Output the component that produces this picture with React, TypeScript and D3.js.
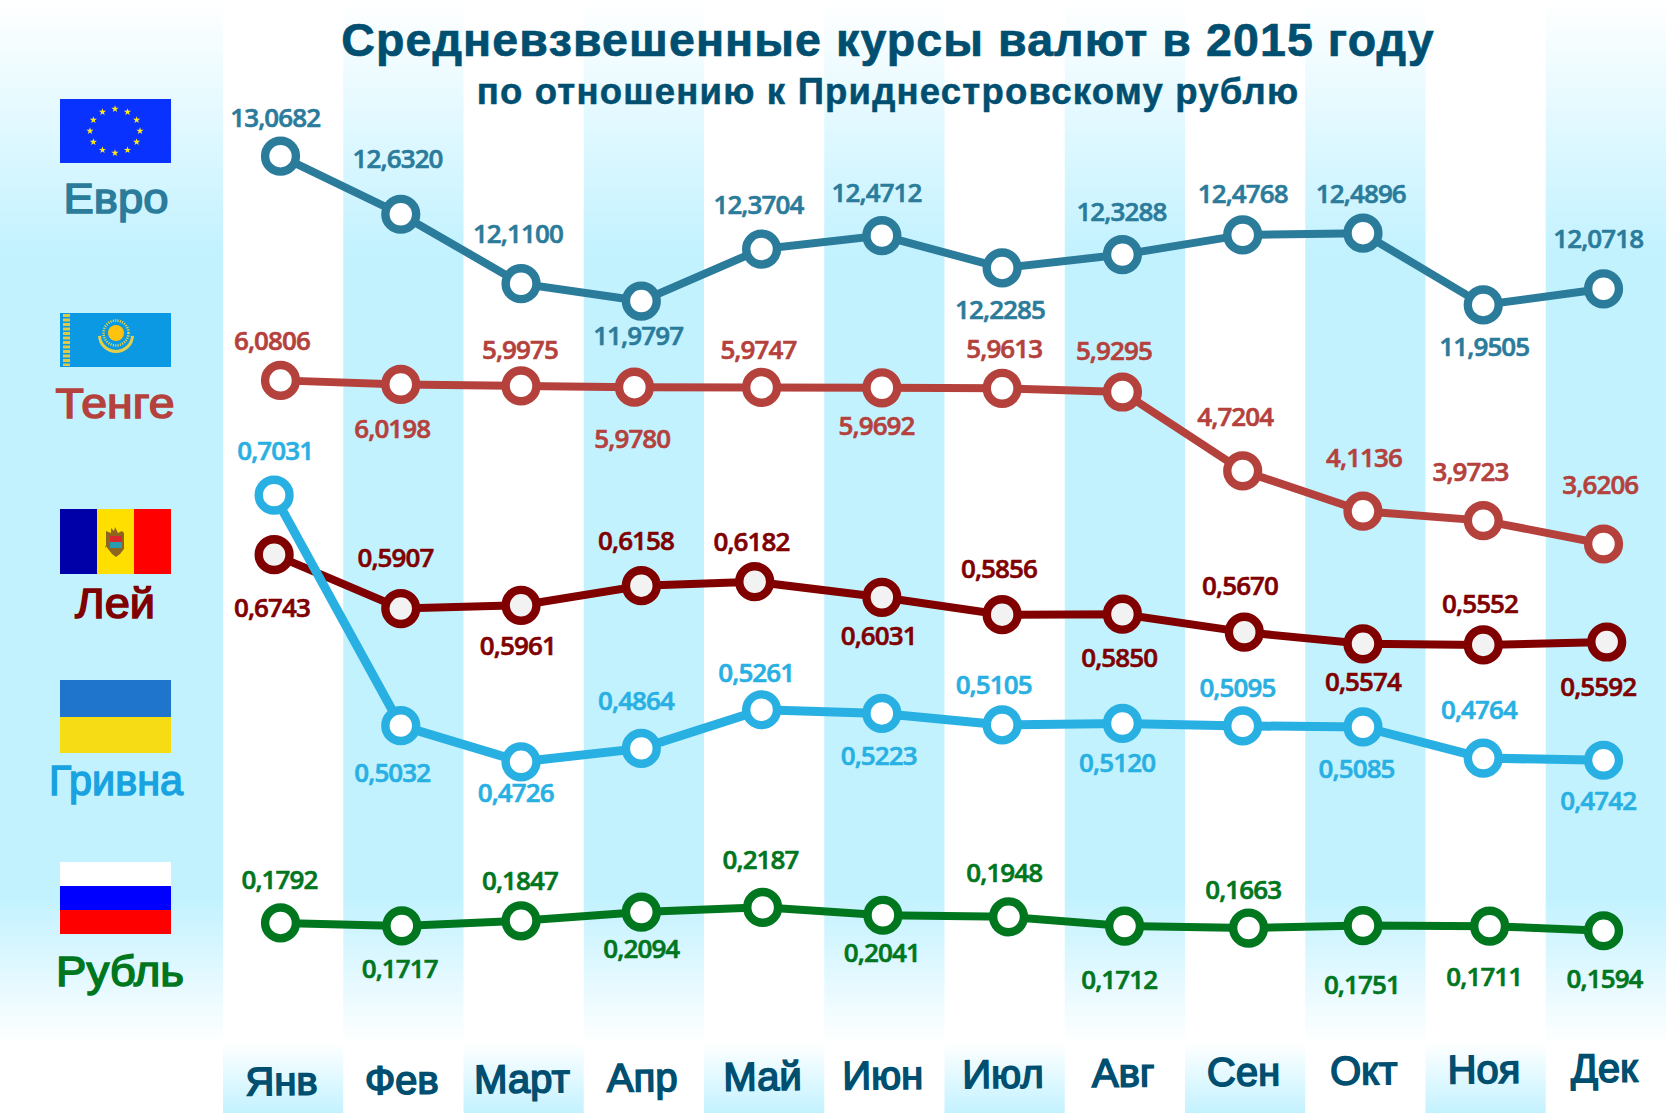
import React, { useEffect, useRef } from 'react';
import * as d3 from 'd3';

const months = ['Янв', 'Фев', 'Март', 'Апр', 'Май', 'Июн', 'Июл', 'Авг', 'Сен', 'Окт', 'Ноя', 'Дек'];

const euro = [13.0682, 12.632, 12.11, 11.9797, 12.3704, 12.4712, 12.2285, 12.3288, 12.4768, 12.4896, 11.9505, 12.0718];
const tenge = [6.0806, 6.0198, 5.9975, 5.978, 5.9747, 5.9692, 5.9613, 5.9295, 4.7204, 4.1136, 3.9723, 3.6206];
const lei = [0.6743, 0.5907, 0.5961, 0.6158, 0.6182, 0.6031, 0.5856, 0.585, 0.567, 0.5574, 0.5552, 0.5592];
const grivna = [0.7031, 0.5032, 0.4726, 0.4864, 0.5261, 0.5223, 0.5105, 0.512, 0.5095, 0.5085, 0.4764, 0.4742];
const rubl = [0.1792, 0.1717, 0.1847, 0.2094, 0.2187, 0.2041, 0.1948, 0.1712, 0.1663, 0.1751, 0.1711, 0.1594];

const W = 1666;
const H = 1113;
// the layout numbers below were measured on a 1568 wide copy
const k = W / 1568;

const BLUE = '#c3f2ff';
const DARK = '#004f70';

// every series has its own vertical scale, the original was laid out by hand
const series = [
  {
    name: 'Евро', values: euro, color: '#2b7b9b', width: 8,
    domain: [11.9505, 13.0682], range: [287, 147],
    shift: {} as Record<number, number[]>,
    labelDx: [-5, -3, -3, -3, -3, -5, -2, -1, 0, -2, 1, -5],
    labelDy: [-36, -52, -47, 33, -42, -40, 39, -40, -39, -37, 39, -47],
  },
  {
    name: 'Тенге', values: tenge, color: '#b5413d', width: 8,
    domain: [3.6206, 6.0806], range: [512, 358],
    shift: { 3: [-6.5, 0], 7: [0, 1.5] } as Record<number, number[]>,
    labelDx: [-8, -8, -1, -2, -3, -5, 2, -8, -7, 1, -12, -3],
    labelDy: [-37, 42, -34, 48, -36, 36, -37, -39, -51, -50, -46, -56],
  },
  {
    name: 'Лей', values: lei, color: '#800000', width: 8,
    domain: [0.5552, 0.6182, 0.6743], range: [606, 547, 522],
    shift: { 0: [-6, 0], 2: [0, 2], 3: [0, 2], 4: [-6.5, 0.5], 5: [0, 1], 6: [0, 1], 8: [1.5, 0], 9: [0, 2], 10: [0, 1], 11: [3, 2] } as Record<number, number[]>,
    labelDx: [-2, -5, -3, -5, -3, -3, -3, -3, -4, 0, -3, -8],
    labelDy: [50, -48, 38, -42, -38, 36, -43, 41, -44, 36, -39, 42],
    fill: '#f2f2f2',
  },
  {
    name: 'Гривна', values: grivna, color: '#29b0e3', width: 9,
    domain: [0.4726, 0.5261, 0.7031], range: [717, 668, 466],
    shift: { 0: [-6, 0], 1: [0, -6] } as Record<number, number[]>,
    labelDx: [1, -8, -5, -5, -5, -3, -8, -5, -5, -6, -4, -5],
    labelDy: [-42, 44, 29, -45, -35, 40, -38, 37, -36, 39, -46, 38],
  },
  {
    name: 'Рубль', values: rubl, color: '#00761f', width: 8,
    domain: [0.1594, 0.2187], range: [876, 854],
    shift: { 1: [1, 0], 3: [0, 1], 4: [1, 0], 5: [1, 2], 6: [6, 0], 7: [2, 0], 8: [5.5, 0], 9: [0, 1], 10: [6, 0] } as Record<number, number[]>,
    labelDx: [-1, -2, -1, 0, -2, -1, -4, -5, -5, -1, -5, 1],
    labelDy: [-41, 40, -38, 34, -45, 35, -42, 50, -36, 56, 48, 45],
  },
];

const legendLabels = [
  { name: 'Евро', color: '#2b7b9b', x: 116, y: 213, w: 105 },
  { name: 'Тенге', color: '#b5413d', x: 115, y: 418, w: 119 },
  { name: 'Лей', color: '#800000', x: 115, y: 618, w: 80 },
  { name: 'Гривна', color: '#18a3e0', x: 116, y: 795, w: 134 },
  { name: 'Рубль', color: '#00761f', x: 120, y: 986, w: 128 },
];

const App: React.FC = () => {
  const svgRef = useRef<SVGSVGElement | null>(null);

  useEffect(() => {
    const svg = d3.select(svgRef.current);
    svg.selectAll('*').remove();

    const defs = svg.append('defs');
    const addGradient = (id: string, y1: number, y2: number, stops: [number, string][]) => {
      const g = defs
        .append('linearGradient')
        .attr('id', id)
        .attr('gradientUnits', 'userSpaceOnUse')
        .attr('x1', 0).attr('x2', 0)
        .attr('y1', y1).attr('y2', y2);
      stops.forEach(([o, c]) => g.append('stop').attr('offset', o).attr('stop-color', c));
    };
    addGradient('panel', 0, 1045, [[0, '#ffffff'], [0.24, BLUE], [0.86, BLUE], [1, '#ffffff']]);
    addGradient('foot', 1043, 1113, [[0, '#ffffff'], [1, BLUE]]);

    const bandX = d3.scaleBand<number>().domain(d3.range(12)).range([223, W]);
    const x = d3
      .scalePoint<number>()
      .domain(d3.range(12))
      .range([264 * k, 1509.2 * k]);

    // background
    svg.append('rect').attr('width', W).attr('height', H).attr('fill', '#fff');
    svg.append('rect').attr('width', 223).attr('height', 1045).attr('fill', 'url(#panel)');
    months.forEach((_, i) => {
      const bx = bandX(i) as number;
      if (i % 2 === 1) {
        svg.append('rect').attr('x', bx).attr('width', bandX.bandwidth()).attr('height', 1045).attr('fill', 'url(#panel)');
      } else {
        svg.append('rect').attr('x', bx).attr('y', 1043).attr('width', bandX.bandwidth()).attr('height', 70).attr('fill', 'url(#foot)');
      }
    });

    // titles
    svg.append('text')
      .attr('x', 888).attr('y', 56)
      .attr('text-anchor', 'middle')
      .attr('font-family', '"Liberation Sans", Arial, sans-serif')
      .attr('font-weight', 700)
      .attr('font-size', 46.5)
      .attr('letter-spacing', 1.1)
      .attr('fill', DARK)
      .attr('stroke', DARK)
      .attr('stroke-width', 0.7)
      .text('Средневзвешенные курсы валют в 2015 году');
    svg.append('text')
      .attr('x', 888).attr('y', 104)
      .attr('text-anchor', 'middle')
      .attr('font-family', '"Liberation Sans", Arial, sans-serif')
      .attr('font-weight', 700)
      .attr('font-size', 36.5)
      .attr('letter-spacing', 1.2)
      .attr('fill', DARK)
      .attr('stroke', DARK)
      .attr('stroke-width', 0.5)
      .text('по отношению к Приднестровскому рублю');

    // flags
    const flags = svg.append('g');
    const stripe = (fx: number, fy: number, fw: number, fh: number, fill: string) =>
      flags.append('rect').attr('x', fx).attr('y', fy).attr('width', fw).attr('height', fh).attr('fill', fill);

    stripe(60, 99, 111, 64, '#0a32ff');
    const star = d3.symbol().type(d3.symbolStar).size(16);
    d3.range(12).forEach(i => {
      const a = (i * Math.PI) / 6;
      flags.append('path')
        .attr('d', star())
        .attr('transform', `translate(${115 + 25 * Math.sin(a)},${131 - 22 * Math.cos(a)})`)
        .attr('fill', '#ffe81a');
    });

    stripe(60, 313, 111, 54, '#0a99e2');
    flags.append('line')
      .attr('x1', 66.5).attr('x2', 66.5).attr('y1', 314).attr('y2', 366)
      .attr('stroke', '#dcc94a').attr('stroke-width', 7).attr('stroke-dasharray', '3 1.5');
    flags.append('circle').attr('cx', 116).attr('cy', 333).attr('r', 12.5)
      .attr('fill', 'none').attr('stroke', '#e8d24a').attr('stroke-width', 2.5).attr('stroke-dasharray', '1.2 1.2');
    flags.append('circle').attr('cx', 116).attr('cy', 333).attr('r', 8).attr('fill', '#ffc20e');
    flags.append('path')
      .attr('d', d3.arc()({ innerRadius: 15, outerRadius: 18, startAngle: Math.PI / 2 + 0.05, endAngle: (3 * Math.PI) / 2 - 0.05 }) as string)
      .attr('transform', 'translate(116,335)')
      .attr('fill', '#e3cf4a');

    stripe(60, 509, 37, 65, '#0000a8');
    stripe(97, 509, 37, 65, '#ffdf00');
    stripe(134, 509, 37, 65, '#ff0000');
    flags.append('path')
      .attr('d', 'M106,531 L111,533 L111,528 L114,531 L115,527 L118,533 L122,531 L124,533 L124,549 L127,545 L120,554 L116,557 L112,554 L105,545 L106,549 Z')
      .attr('fill', '#8d651f');
    flags.append('rect').attr('x', 110).attr('y', 536).attr('width', 12).attr('height', 6).attr('fill', '#d8282c');
    flags.append('rect').attr('x', 110).attr('y', 542).attr('width', 12).attr('height', 6).attr('fill', '#2a9cb0');

    stripe(60, 680, 111, 37, '#1f74cc');
    stripe(60, 717, 111, 36, '#f5dc14');

    stripe(60, 862, 111, 24, '#ffffff');
    stripe(60, 886, 111, 24, '#0000ff');
    stripe(60, 910, 111, 24, '#ff0000');

    // legend names
    legendLabels.forEach(l => {
      svg.append('text')
        .attr('x', l.x).attr('y', l.y)
        .attr('text-anchor', 'middle')
        .attr('font-family', '"Liberation Sans", Arial, sans-serif')
        .attr('font-size', 43)
        .attr('textLength', l.w)
        .attr('lengthAdjust', 'spacingAndGlyphs')
        .attr('fill', l.color)
        .attr('stroke', l.color)
        .attr('stroke-width', 1.5)
        .text(l.name);
    });

    // months, the row climbs slightly to the right
    const monthY = d3.scaleLinear().domain([0, 11]).range([1095, 1082]);
    months.forEach((m, i) => {
      const mx = (bandX(i) as number) + bandX.bandwidth() / 2 - 1.5;
      svg.append('text')
        .attr('transform', `translate(${mx},${monthY(i)}) rotate(-0.6)`)
        .attr('text-anchor', 'middle')
        .attr('font-family', '"Liberation Sans", Arial, sans-serif')
        .attr('font-size', 40)
        .attr('fill', DARK)
        .attr('stroke', DARK)
        .attr('stroke-width', 1.6)
        .text(m);
    });

    // lines, markers, value labels
    const px = (s: (typeof series)[number], i: number) => (x(i) as number) + (s.shift[i]?.[0] ?? 0) * k;
    series.forEach(s => {
      const y = d3.scaleLinear().domain(s.domain).range(s.range.map(r => r * k));
      const py = (v: number, i: number) => y(v) + (s.shift[i]?.[1] ?? 0) * k;
      const line = d3
        .line<number>()
        .x((_, i) => px(s, i))
        .y((v, i) => py(v, i));
      const g = svg.append('g');
      g.append('path')
        .attr('d', line(s.values) as string)
        .attr('fill', 'none')
        .attr('stroke', s.color)
        .attr('stroke-width', s.width);
      g.selectAll('circle')
        .data(s.values)
        .join('circle')
        .attr('cx', (_, i) => px(s, i))
        .attr('cy', (v, i) => py(v, i))
        .attr('r', 15.4)
        .attr('fill', s.fill ?? '#fff')
        .attr('stroke', s.color)
        .attr('stroke-width', 8.4);
      g.selectAll('text')
        .data(s.values)
        .join('text')
        .attr('x', (_, i) => px(s, i) + s.labelDx[i] * k)
        .attr('y', (v, i) => py(v, i) + s.labelDy[i] * k)
        .attr('dy', '0.36em')
        .attr('text-anchor', 'middle')
        .attr('font-family', '"Open Sans", sans-serif')
        .attr('font-weight', 600)
        .attr('font-size', 26)
        .attr('letter-spacing', -0.9)
        .attr('fill', s.color)
        .attr('stroke', s.color)
        .attr('stroke-width', 0.6)
        .text(v => d3.format('.4f')(v).replace('.', ','));
    });
  }, []);

  return (
    <>
      <style>{'body{margin:0}'}</style>
      <svg ref={svgRef} width={W} height={H} viewBox={`0 0 ${W} ${H}`} style={{ display: 'block' }} />
    </>
  );
};

export default App;
